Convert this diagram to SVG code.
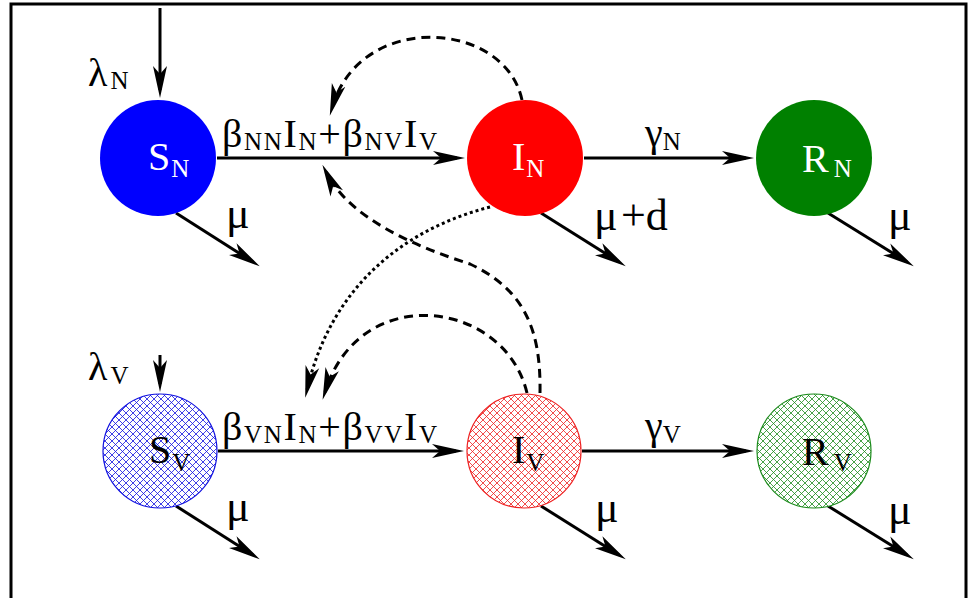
<svg xmlns="http://www.w3.org/2000/svg" width="968" height="598" viewBox="0 0 968 598">
<style>
.t{font-family:"Liberation Serif","Times New Roman",serif;fill:#000}
.w{fill:#fff}
.m{font-size:40px}
.s{font-size:25px}
.mu{font-size:44px}
.ln{fill:none;stroke:#000;stroke-width:3}
.da{stroke-dasharray:9 6}
.dt{stroke-dasharray:3 3}
</style>
<defs>
<marker id="ah" markerUnits="userSpaceOnUse" markerWidth="32" markerHeight="16" viewBox="0 0 32 16" refX="24" refY="8" orient="auto">
<path d="M0,1 L32,8 L0,15 L8,8 Z" fill="#000"/>
</marker>
<pattern id="hb" patternUnits="userSpaceOnUse" width="7" height="7">
<path d="M0,0 L7,7 M7,0 L0,7" stroke="#1010e0" stroke-width="0.8"/>
</pattern>
<pattern id="hr" patternUnits="userSpaceOnUse" width="7" height="7">
<path d="M0,0 L7,7 M7,0 L0,7" stroke="#ee2020" stroke-width="0.8"/>
</pattern>
<pattern id="hg" patternUnits="userSpaceOnUse" width="7" height="7">
<path d="M0,0 L7,7 M7,0 L0,7" stroke="#1a8a1a" stroke-width="0.8"/>
</pattern>
</defs>
<rect x="0" y="0" width="968" height="598" fill="#fff"/>
<rect x="11" y="4" width="955" height="600" fill="#fff" stroke="#000" stroke-width="3"/>

<g id="connectors">
<path class="ln" d="M217,158 H457" marker-end="url(#ah)"/>
<path class="ln" d="M584,158 H746" marker-end="url(#ah)"/>
<path class="ln" d="M218,451 H456" marker-end="url(#ah)"/>
<path class="ln" d="M582,451 H746" marker-end="url(#ah)"/>
<path class="ln" d="M160,8 V90" marker-end="url(#ah)"/>
<path class="ln" d="M160,355 V384" marker-end="url(#ah)"/>
<path class="ln" d="M176,213 L253,262" marker-end="url(#ah)"/>
<path class="ln" d="M541,213 L619,262" marker-end="url(#ah)"/>
<path class="ln" d="M828,213 L907,262" marker-end="url(#ah)"/>
<path class="ln" d="M176,506 L253,555" marker-end="url(#ah)"/>
<path class="ln" d="M541,506 L619,555" marker-end="url(#ah)"/>
<path class="ln" d="M828,506 L907,555" marker-end="url(#ah)"/>
<path class="ln da" d="M522,100 C505,20 360,10 332,108" marker-end="url(#ah)"/>
<path class="ln da" d="M540,393 C541,330 525,290 470,264 C420,248 350,220 326,172" marker-end="url(#ah)"/>
<path class="ln dt" d="M490,207 C400,230 330,290 307,390" marker-end="url(#ah)"/>
<path class="ln da" d="M527,393 C505,300 360,280 325,392" marker-end="url(#ah)"/>
</g>

<g id="SN">
<circle cx="158" cy="158" r="58" fill="#0000ff"/>
<text class="t w" x="148" y="170"><tspan class="m">S</tspan><tspan class="s" dx="1" dy="7" font-size="26">N</tspan></text>
</g>
<g id="IN">
<circle cx="525" cy="158" r="58" fill="#ff0000"/>
<text class="t w" x="512" y="170"><tspan class="m">I</tspan><tspan class="s" dx="1" dy="7">N</tspan></text>
</g>
<g id="RN">
<circle cx="814" cy="158" r="58" fill="#008000"/>
<text class="t w" x="802" y="172"><tspan class="m">R</tspan><tspan class="s" dx="5" dy="5">N</tspan></text>
</g>
<g id="SV">
<circle cx="160" cy="451" r="57" fill="#fff"/>
<circle cx="160" cy="451" r="57" fill="url(#hb)" stroke="#1010e0" stroke-width="1.2"/>
<text class="t" x="149" y="463"><tspan class="m">S</tspan><tspan class="s" dx="1" dy="8">V</tspan></text>
</g>
<g id="IV">
<circle cx="524" cy="451" r="57" fill="#fff"/>
<circle cx="524" cy="451" r="57" fill="url(#hr)" stroke="#ee2020" stroke-width="1.2"/>
<text class="t" x="512" y="463"><tspan class="m">I</tspan><tspan class="s" dx="1" dy="8">V</tspan></text>
</g>
<g id="RV">
<circle cx="814" cy="451" r="57" fill="#fff"/>
<circle cx="814" cy="451" r="57" fill="url(#hg)" stroke="#1a8a1a" stroke-width="1.2"/>
<text class="t" x="802" y="465"><tspan class="m">R</tspan><tspan class="s" dx="5" dy="6">V</tspan></text>
</g>

<g id="labels">
<text class="t" x="222" y="147" textLength="215" lengthAdjust="spacing"><tspan class="m">β</tspan><tspan class="s" dy="3">NN</tspan><tspan class="m" dy="-3">I</tspan><tspan class="s" dy="3">N</tspan><tspan class="m" dy="-3">+β</tspan><tspan class="s" dy="3">NV</tspan><tspan class="m" dy="-3">I</tspan><tspan class="s" dy="3">V</tspan></text>

<text class="t" x="222" y="440" textLength="215" lengthAdjust="spacing"><tspan class="m">β</tspan><tspan class="s" dy="3">VN</tspan><tspan class="m" dy="-3">I</tspan><tspan class="s" dy="3">N</tspan><tspan class="m" dy="-3">+β</tspan><tspan class="s" dy="3">VV</tspan><tspan class="m" dy="-3">I</tspan><tspan class="s" dy="3">V</tspan></text>

<text class="t" x="645" y="146"><tspan class="m">γ</tspan><tspan class="s" dy="4">N</tspan></text>
<text class="t" x="645" y="439"><tspan class="m">γ</tspan><tspan class="s" dy="4">V</tspan></text>

<text class="t" x="88" y="86"><tspan class="m">λ</tspan><tspan class="s" dx="3" dy="3" font-size="27">N</tspan></text>
<text class="t" x="88" y="380"><tspan class="m">λ</tspan><tspan class="s" dx="3" dy="4" font-size="27">V</tspan></text>

<text class="t mu" x="226" y="228">μ</text>
<text class="t mu" x="594" y="230">μ</text><text class="t mu" x="621" y="230">+d</text>
<text class="t mu" x="888" y="230">μ</text>
<text class="t mu" x="226" y="521">μ</text>
<text class="t mu" x="595" y="522">μ</text>
<text class="t mu" x="888" y="524">μ</text>
</g>
</svg>
